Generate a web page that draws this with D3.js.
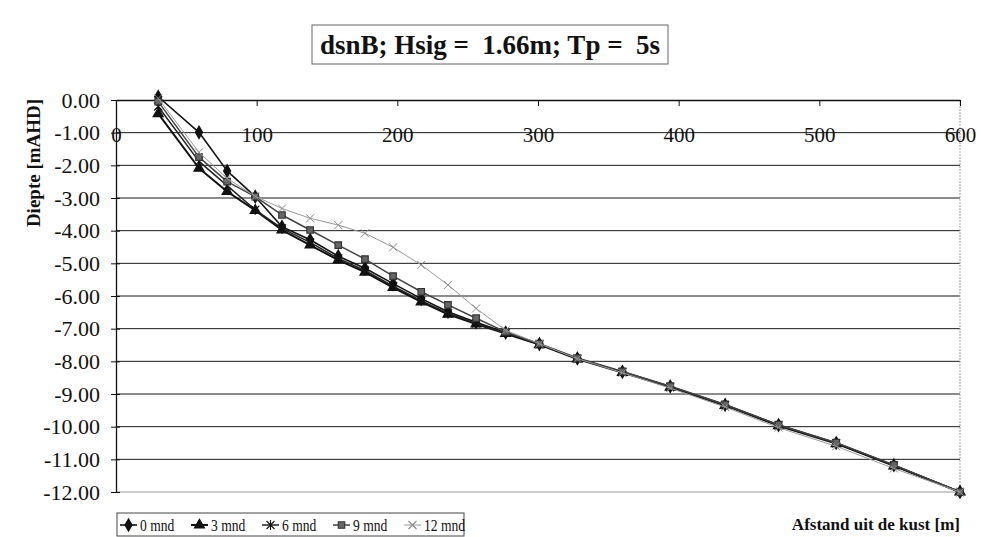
<!DOCTYPE html>
<html>
<head>
<meta charset="utf-8">
<script src="https://cdn.jsdelivr.net/npm/d3@7"></script>
<style>
  html, body { margin: 0; padding: 0; background: #fff; }
  svg { display: block; font-family: "Liberation Serif", "DejaVu Serif", serif; }
</style>
</head>
<body>
<svg id="chart" width="981" height="537"></svg>
<script>
// Beach profile: depth vs. distance offshore, five survey moments
const chartTitle = "dsnB; Hsig =  1.66m; Tp =  5s";
const xTitle = "Afstand uit de kust [m]";
const yTitle = "Diepte [mAHD]";

const distance = [30, 59, 79, 99, 118, 138, 158, 177, 197, 217, 236, 256, 277, 301, 328, 360, 394, 433, 471, 512, 553, 600];

const depth0mnd  = [0.10, -0.99, -2.17, -2.96, -3.88, -4.28, -4.78, -5.15, -5.62, -6.08, -6.48, -6.80, -7.12, -7.47, -7.91, -8.32, -8.77, -9.33, -9.95, -10.50, -11.18, -12.00];
const depth3mnd  = [-0.42, -2.09, -2.80, -3.38, -3.98, -4.44, -4.90, -5.27, -5.74, -6.18, -6.56, -6.86, -7.15, -7.49, -7.93, -8.34, -8.79, -9.35, -9.97, -10.52, -11.20, -12.00];
const depth6mnd  = [-0.20, -1.88, -2.62, -3.36, -3.93, -4.36, -4.85, -5.22, -5.70, -6.14, -6.53, -6.84, -7.13, -7.48, -7.92, -8.33, -8.78, -9.34, -9.96, -10.51, -11.19, -12.00];
const depth9mnd  = [-0.05, -1.75, -2.50, -2.96, -3.52, -3.98, -4.44, -4.87, -5.39, -5.87, -6.27, -6.68, -7.10, -7.46, -7.90, -8.31, -8.76, -9.32, -9.94, -10.49, -11.17, -12.00];
const depth12mnd = [0.05, -1.60, -2.40, -2.95, -3.32, -3.62, -3.83, -4.08, -4.51, -5.05, -5.66, -6.38, -7.05, -7.46, -7.92, -8.35, -8.82, -9.40, -10.03, -10.60, -11.28, -12.00];

const seriesNames = ["0 mnd", "3 mnd", "6 mnd", "9 mnd", "12 mnd"];
const seriesDepths = [depth0mnd, depth3mnd, depth6mnd, depth9mnd, depth12mnd];

const xTickValues = [0, 100, 200, 300, 400, 500, 600];
const yTickValues = [0, -1, -2, -3, -4, -5, -6, -7, -8, -9, -10, -11, -12];

// Visual style per series
const styles = [
  { stroke: "#111", width: 1.6, marker: "diamond",  fill: "#111", mstroke: "#111" },
  { stroke: "#111", width: 2.0, marker: "triangle", fill: "#111", mstroke: "#111" },
  { stroke: "#222", width: 1.5, marker: "asterisk", fill: "none", mstroke: "#111" },
  { stroke: "#444", width: 1.5, marker: "square",   fill: "#666", mstroke: "#333" },
  { stroke: "#9a9a9a", width: 1.0, marker: "cross", fill: "none", mstroke: "#8a8a8a" }
];

const svg = d3.select("#chart");
const plotLeft = 116, plotRight = 960, plotTop = 100, plotBottom = 492;

const x = d3.scaleLinear().domain([0, 600]).range([plotLeft, plotRight]);
const y = d3.scaleLinear().domain([-12, 0]).range([plotBottom, plotTop]);

// Horizontal gridlines
svg.append("g").selectAll("line")
  .data(yTickValues.filter(v => v < 0 && v > -12))
  .join("line")
  .attr("x1", plotLeft).attr("x2", plotRight)
  .attr("y1", d => y(d)).attr("y2", d => y(d))
  .attr("stroke", "#1a1a1a").attr("stroke-width", 1);

// Plot frame: bottom and right edges are light
svg.append("line").attr("x1", plotLeft).attr("x2", plotRight).attr("y1", plotBottom).attr("y2", plotBottom)
  .attr("stroke", "#999").attr("stroke-width", 1);
svg.append("line").attr("x1", plotRight).attr("x2", plotRight).attr("y1", plotTop).attr("y2", plotBottom)
  .attr("stroke", "#999").attr("stroke-width", 1).attr("stroke-dasharray", "2,1");

// X axis along the top edge (y = 0), labels hanging below
const xAxis = svg.append("g")
  .attr("transform", `translate(0,${plotTop})`)
  .call(d3.axisBottom(x).tickValues(xTickValues).tickSizeInner(6).tickSizeOuter(0).tickFormat(d3.format("d")));
xAxis.select(".domain").attr("stroke", "#111").attr("stroke-width", 1.3);
xAxis.selectAll(".tick line").attr("stroke", "#111");
xAxis.selectAll(".tick text")
  .attr("y", 35).attr("dy", "0.35em")
  .attr("font-size", 21).attr("fill", "#111")
  .attr("font-family", "Liberation Serif, DejaVu Serif, serif");

// Y axis with crossing tick marks
const yAxis = svg.append("g")
  .attr("transform", `translate(${plotLeft},0)`)
  .call(d3.axisLeft(y).tickValues(yTickValues).tickSizeOuter(0).tickSizeInner(5).tickFormat(d => d.toFixed(2)));
yAxis.select(".domain").attr("stroke", "#111").attr("stroke-width", 1.3);
yAxis.selectAll(".tick line").attr("x1", 4).attr("x2", -5).attr("stroke", "#111");
yAxis.selectAll(".tick text")
  .attr("x", -16).attr("font-size", 22).attr("fill", "#111")
  .attr("font-family", "Liberation Serif, DejaVu Serif, serif");

// Marker shapes
function markerPath(kind) {
  switch (kind) {
    case "diamond":  return d3.symbol(d3.symbolDiamond, 44)();
    case "triangle": return d3.symbol(d3.symbolTriangle, 44)();
    case "square":   return d3.symbol(d3.symbolSquare, 42)();
    case "asterisk": return "M-4,-4L4,4M-4,4L4,-4M0,-5L0,5";
    case "cross":    return "M-4,-4L4,4M-4,4L4,-4";
  }
}

const line = d3.line().x(d => x(d[0])).y(d => y(d[1]));

seriesDepths.forEach((depths, i) => {
  const st = styles[i];
  const pts = distance.map((d, j) => [d, depths[j]]);
  const g = svg.append("g");
  g.append("path").datum(pts)
    .attr("d", line)
    .attr("fill", "none")
    .attr("stroke", st.stroke)
    .attr("stroke-width", st.width)
    .attr("stroke-linejoin", "round");
  g.selectAll("path.mk").data(pts).join("path")
    .attr("class", "mk")
    .attr("transform", d => `translate(${x(d[0])},${y(d[1])})`)
    .attr("d", markerPath(st.marker))
    .attr("fill", st.fill)
    .attr("stroke", st.mstroke)
    .attr("stroke-width", st.marker === "cross" ? 1 : 1.2);
});

// Title in a box
const titleG = svg.append("g");
titleG.append("rect")
  .attr("x", 312).attr("y", 25).attr("width", 356).attr("height", 39)
  .attr("fill", "#fff").attr("stroke", "#666").attr("stroke-width", 1);
titleG.append("text")
  .attr("x", 490).attr("y", 45).attr("dy", "0.35em")
  .attr("text-anchor", "middle")
  .attr("font-size", 27).attr("font-weight", "bold")
  .attr("fill", "#111")
  .style("white-space", "pre")
  .text(chartTitle);

// Axis titles
svg.append("text")
  .attr("transform", "translate(33,163) rotate(-90)")
  .attr("text-anchor", "middle").attr("dy", "0.35em")
  .attr("font-size", 19).attr("font-weight", "bold").attr("fill", "#111")
  .text(yTitle);

svg.append("text")
  .attr("x", 960).attr("y", 524).attr("dy", "0.35em")
  .attr("text-anchor", "end")
  .attr("font-size", 17).attr("font-weight", "bold").attr("fill", "#111")
  .text(xTitle);

// Legend
const legend = svg.append("g");
legend.append("rect")
  .attr("x", 117).attr("y", 513).attr("width", 347).attr("height", 23)
  .attr("fill", "#fff").attr("stroke", "#444").attr("stroke-width", 1);
seriesNames.forEach((name, i) => {
  const st = styles[i];
  const item = legend.append("g").attr("transform", `translate(${120 + i * 71},525)`);
  item.append("line").attr("x1", 0).attr("x2", 17).attr("y1", 0).attr("y2", 0)
    .attr("stroke", st.stroke).attr("stroke-width", st.width);
  item.append("path").attr("transform", "translate(8.5,0)")
    .attr("d", markerPath(st.marker)).attr("fill", st.fill)
    .attr("stroke", st.mstroke).attr("stroke-width", 1.1);
  item.append("text").attr("transform", "translate(20,0) scale(0.8,1)")
    .attr("dy", "0.35em")
    .attr("font-size", 17).attr("fill", "#111").text(name);
});
</script>
</body>
</html>
